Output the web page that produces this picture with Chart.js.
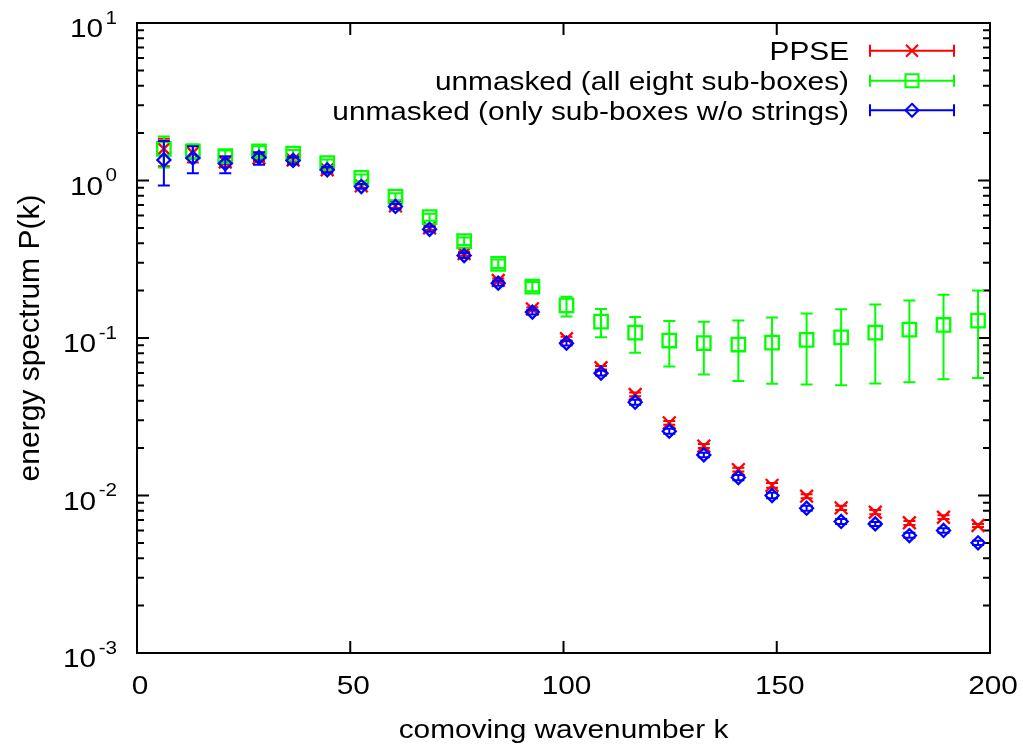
<!DOCTYPE html>
<html>
<head>
<meta charset="utf-8">
<script src="https://cdn.jsdelivr.net/npm/chart.js@4/dist/chart.umd.min.js"></script>
<style>
    body { margin: 0; background: #fff; }
    #wrap { width: 1023px; height: 744px; }
</style>
</head>
<body>
<div id="wrap"><canvas id="spectrum" width="1023" height="744"></canvas></div>
<script>
// comoving wavenumber of each bin
const kValues = [6.3, 13.1, 20.7, 28.6, 36.6, 44.6, 52.6, 60.6, 68.6, 76.7, 84.7, 92.7, 100.7,
    108.8, 116.8, 124.8, 132.9, 141.0, 148.9, 157.0, 165.1, 173.1, 181.1, 189.1, 197.2];

// PPSE
const ppse = [1.59, 1.50, 1.31, 1.39, 1.35, 1.17, 0.925, 0.69, 0.50, 0.343, 0.232, 0.153, 0.099,
    0.0647, 0.0438, 0.0289, 0.0206, 0.0146, 0.0116, 0.0099, 0.00835, 0.00783, 0.00671, 0.00728, 0.00645];
const ppseLo = [1.23, 1.30, 1.22, 1.33, 1.30, 1.13, 0.90, 0.67, 0.485, 0.333, 0.225, 0.149, 0.096,
    0.063, 0.0426, 0.0281, 0.0200, 0.0142, 0.0112, 0.0096, 0.0081, 0.0076, 0.0065, 0.0071, 0.0063];
const ppseHi = [1.84, 1.67, 1.42, 1.46, 1.40, 1.21, 0.95, 0.71, 0.515, 0.353, 0.239, 0.157, 0.102,
    0.0665, 0.045, 0.0297, 0.0212, 0.015, 0.012, 0.0102, 0.0086, 0.0081, 0.0069, 0.0075, 0.0066];

// unmasked, all eight sub-boxes
const allBoxes = [1.59, 1.53, 1.43, 1.53, 1.48, 1.29, 1.04, 0.79, 0.585, 0.412, 0.296, 0.212, 0.161,
    0.127, 0.108, 0.0964, 0.0927, 0.0909, 0.0934, 0.0973, 0.101, 0.108, 0.113, 0.121, 0.129];
const allBoxesLo = [1.21, 1.37, 1.33, 1.43, 1.41, 1.23, 0.99, 0.75, 0.555, 0.39, 0.278, 0.198, 0.137,
    0.101, 0.0806, 0.066, 0.0587, 0.0533, 0.0513, 0.0506, 0.0502, 0.0514, 0.0524, 0.0548, 0.0558];
const allBoxesHi = [1.90, 1.69, 1.55, 1.65, 1.56, 1.36, 1.09, 0.83, 0.615, 0.435, 0.315, 0.227, 0.183,
    0.153, 0.136, 0.128, 0.127, 0.129, 0.135, 0.143, 0.152, 0.163, 0.173, 0.188, 0.200];

// unmasked, only sub-boxes without strings
const noStrings = [1.35, 1.39, 1.28, 1.40, 1.34, 1.17, 0.916, 0.684, 0.49, 0.334, 0.223, 0.146, 0.0927,
    0.0598, 0.0391, 0.0256, 0.0181, 0.0130, 0.0100, 0.0083, 0.00684, 0.0066, 0.00557, 0.0060, 0.00501];
const noStringsLo = [0.93, 1.11, 1.11, 1.26, 1.27, 1.12, 0.885, 0.66, 0.473, 0.322, 0.215, 0.141, 0.0895,
    0.0577, 0.0377, 0.0247, 0.0175, 0.0125, 0.0096, 0.0080, 0.0066, 0.0064, 0.0054, 0.0058, 0.00485];
const noStringsHi = [1.78, 1.65, 1.42, 1.51, 1.41, 1.22, 0.95, 0.71, 0.508, 0.346, 0.231, 0.151, 0.096,
    0.062, 0.0405, 0.0265, 0.0187, 0.0135, 0.0104, 0.0086, 0.0071, 0.0068, 0.0058, 0.0062, 0.00517];

const seriesLabels = ["PPSE", "unmasked (all eight sub-boxes)", "unmasked (only sub-boxes w/o strings)"];
const seriesColors = ["rgb(255, 0, 0)", "rgb(0, 255, 0)", "rgb(0, 0, 255)"];
const xTicks = [0, 50, 100, 150, 200];
const yDecades = [-3, -2, -1, 0, 1];

const FONT = '"Liberation Sans", Arial, Helvetica, sans-serif';
const SX = 1.146; // text in the original is a bit wide

let spectrum = {};

spectrum.points = function (ys) {
    return kValues.map((k, i) => ({ x: k, y: ys[i] }));
};

spectrum.bars = [
    { lo: ppseLo, hi: ppseHi },
    { lo: allBoxesLo, hi: allBoxesHi },
    { lo: noStringsLo, hi: noStringsHi },
];

spectrum.text = function (ctx, s, x, y, size, align) {
    ctx.save();
    ctx.font = size + "px " + FONT;
    ctx.textBaseline = "alphabetic";
    ctx.textAlign = "left";
    const w = ctx.measureText(s).width * SX;
    let x0 = x;
    if (align == "right") x0 = x - w;
    if (align == "center") x0 = x - w / 2;
    ctx.translate(x0, y);
    ctx.scale(SX, 1);
    ctx.fillStyle = "#000";
    ctx.fillText(s, 0, 0);
    ctx.restore();
    return w;
};

spectrum.marker = function (ctx, style, x, y) {
    ctx.beginPath();
    if (style == "crossRot") {
        ctx.moveTo(x - 6, y - 6); ctx.lineTo(x + 6, y + 6);
        ctx.moveTo(x - 6, y + 6); ctx.lineTo(x + 6, y - 6);
    } else if (style == "rect") {
        ctx.rect(x - 6.5, y - 6.5, 13, 13);
    } else {
        ctx.moveTo(x, y - 6.5); ctx.lineTo(x + 6.5, y); ctx.lineTo(x, y + 6.5); ctx.lineTo(x - 6.5, y);
        ctx.closePath();
    }
    ctx.stroke();
};

// frame, ticks and axis text, drawn before the data
spectrum.framePlugin = {
    id: "frame",
    beforeDatasetsDraw(chart) {
        const ctx = chart.ctx;
        const a = chart.chartArea;
        const xs = chart.scales.x;
        const ys = chart.scales.y;
        ctx.save();
        ctx.strokeStyle = "#000";
        ctx.lineWidth = 2;
        ctx.strokeRect(a.left, a.top, a.right - a.left, a.bottom - a.top);

        ctx.beginPath();
        for (const t of xTicks) {
            const px = xs.getPixelForValue(t);
            ctx.moveTo(px, a.bottom); ctx.lineTo(px, a.bottom - 12);
            ctx.moveTo(px, a.top); ctx.lineTo(px, a.top + 12);
        }
        for (const e of yDecades) {
            for (let m = 1; m < 10; m++) {
                const v = m * Math.pow(10, e);
                if (v > 10) break;
                const py = ys.getPixelForValue(v);
                const len = m == 1 ? 12 : 7;
                ctx.moveTo(a.left, py); ctx.lineTo(a.left + len, py);
                ctx.moveTo(a.right, py); ctx.lineTo(a.right - len, py);
            }
        }
        ctx.stroke();
        ctx.restore();

        for (const t of xTicks) {
            spectrum.text(ctx, String(t), xs.getPixelForValue(t) + 3, a.bottom + 41, 26, "center");
        }
        for (const e of yDecades) {
            const py = ys.getPixelForValue(Math.pow(10, e));
            const ew = spectrum.text(ctx, e < 0 ? "-" + (-e) : String(e), a.left - 20, py + 0.5, 18, "right");
            spectrum.text(ctx, "10", a.left - 20 - ew - 2.5, py + 14, 26, "right");
        }
        spectrum.text(ctx, "comoving wavenumber k", (a.left + a.right) / 2 + 0, 738, 26, "center");

        ctx.save();
        ctx.translate(39, (a.top + a.bottom) / 2);
        ctx.rotate(-Math.PI / 2);
        ctx.font = "30px " + FONT;
        ctx.textAlign = "center";
        ctx.textBaseline = "alphabetic";
        ctx.fillStyle = "#000";
        ctx.fillText("energy spectrum P(k)", 0, 0);
        ctx.restore();
    },
    afterDraw(chart) {
        const ctx = chart.ctx;
        const rows = [50.7, 80.7, 110.3];
        const styles = ["crossRot", "rect", "rectRot"];
        for (let i = 0; i < 3; i++) {
            const y = rows[i];
            spectrum.text(ctx, seriesLabels[i], 849, y + 9.3, 26, "right");
            ctx.save();
            ctx.strokeStyle = seriesColors[i];
            ctx.lineWidth = 2;
            ctx.beginPath();
            ctx.moveTo(870, y); ctx.lineTo(954, y);
            ctx.moveTo(870, y - 6); ctx.lineTo(870, y + 6);
            ctx.moveTo(954, y - 6); ctx.lineTo(954, y + 6);
            ctx.stroke();
            spectrum.marker(ctx, styles[i], 912, y);
            ctx.restore();
        }
    },
};

// vertical error bars with caps, through the chart scales
spectrum.errorBarPlugin = {
    id: "errorBars",
    afterDatasetDraw(chart, args) {
        const bars = spectrum.bars[args.index];
        if (!bars) return;
        const ctx = chart.ctx;
        const xs = chart.scales.x;
        const ys = chart.scales.y;
        ctx.save();
        ctx.strokeStyle = seriesColors[args.index];
        ctx.lineWidth = 2;
        ctx.beginPath();
        for (let i = 0; i < kValues.length; i++) {
            const px = xs.getPixelForValue(kValues[i]);
            const lo = ys.getPixelForValue(bars.lo[i]);
            const hi = ys.getPixelForValue(bars.hi[i]);
            ctx.moveTo(px, lo); ctx.lineTo(px, hi);
            ctx.moveTo(px - 6, lo); ctx.lineTo(px + 6, lo);
            ctx.moveTo(px - 6, hi); ctx.lineTo(px + 6, hi);
        }
        ctx.stroke();
        ctx.restore();
    },
};

spectrum.CONFIG = {
    type: "scatter",
    data: {
        datasets: [
            {
                label: seriesLabels[0],
                data: spectrum.points(ppse),
                pointStyle: "crossRot",
                pointRadius: 9,
                pointBorderWidth: 2.3,
                borderColor: seriesColors[0],
                backgroundColor: "rgba(0,0,0,0)",
                order: 3,
            },
            {
                label: seriesLabels[1],
                data: spectrum.points(allBoxes),
                pointStyle: "rect",
                pointRadius: 9.5,
                pointBorderWidth: 2.3,
                borderColor: seriesColors[1],
                backgroundColor: "rgba(0,0,0,0)",
                order: 2,
            },
            {
                label: seriesLabels[2],
                data: spectrum.points(noStrings),
                pointStyle: "rectRot",
                pointRadius: 6.5,
                pointBorderWidth: 2.3,
                borderColor: seriesColors[2],
                backgroundColor: "rgba(0,0,0,0)",
                order: 1,
            },
        ],
    },
    options: {
        responsive: false,
        animation: false,
        events: [],
        layout: {
            padding: { left: 137, right: 33, top: 23, bottom: 91 },
        },
        plugins: {
            legend: { display: false },
            tooltip: { enabled: false },
        },
        scales: {
            x: { type: "linear", min: 0, max: 200, display: false },
            y: { type: "logarithmic", min: 0.001, max: 10, display: false },
        },
    },
    plugins: [spectrum.framePlugin, spectrum.errorBarPlugin],
};

spectrum.chart = new Chart(document.getElementById("spectrum"), spectrum.CONFIG);
</script>
</body>
</html>
